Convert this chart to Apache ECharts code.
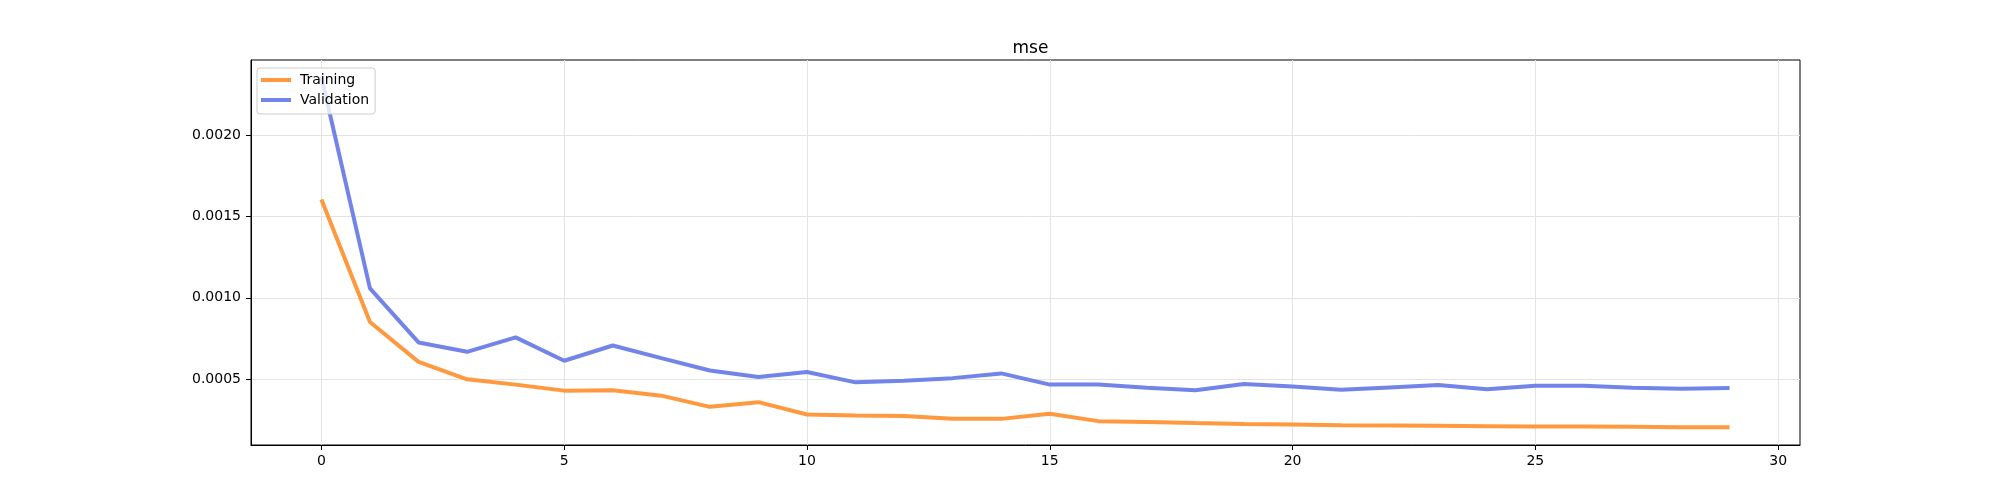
<!DOCTYPE html>
<html>
<head>
<meta charset="utf-8">
<title>mse</title>
<script src="https://cdn.jsdelivr.net/npm/echarts@6/dist/echarts.min.js"></script>
<style>
  html, body { margin: 0; padding: 0; background: #fff; }
  #chart { width: 2000px; height: 500px; }
</style>
</head>
<body>
<div id="chart"></div>
<script>
// 数据
var epochs = [0, 1, 2, 3, 4, 5, 6, 7, 8, 9, 10, 11, 12, 13, 14, 15, 16, 17, 18, 19, 20, 21, 22, 23, 24, 25, 26, 27, 28, 29];
var training = [0.001605, 0.000851, 0.000605, 0.000498, 0.000465, 0.000428, 0.000430, 0.000397, 0.000328, 0.000357,
  0.000281, 0.000274, 0.000272, 0.000254, 0.000254, 0.000285, 0.000240, 0.000235, 0.000228, 0.000223,
  0.000219, 0.000215, 0.000213, 0.000211, 0.000209, 0.000207, 0.000207, 0.000205, 0.000203, 0.000203];
var validation = [0.002360, 0.001058, 0.000725, 0.000667, 0.000756, 0.000612, 0.000706, 0.000628, 0.000552, 0.000512,
  0.000543, 0.000479, 0.000489, 0.000505, 0.000534, 0.000465, 0.000465, 0.000446, 0.000430, 0.000469,
  0.000454, 0.000434, 0.000448, 0.000462, 0.000436, 0.000458, 0.000458, 0.000446, 0.000440, 0.000444];
var xTicks = [0, 5, 10, 15, 20, 25, 30];
var yTicks = [0.0005, 0.0010, 0.0015, 0.0020];

function pairs(xs, ys) {
  return xs.map(function (x, i) { return [x, ys[i]]; });
}

var font = 'DejaVu Sans';
var myChart = echarts.init(document.getElementById('chart'));

var option = {
  backgroundColor: '#fff',
  animation: false,
  title: {
    text: 'mse',
    left: 1025.5,
    top: 35,
    textAlign: 'center',
    textStyle: { fontFamily: font, fontSize: 17, fontWeight: 'normal', color: '#000' }
  },
  legend: {
    orient: 'vertical',
    left: 257,
    top: 68,
    padding: [4, 6, 6, 4],
    backgroundColor: 'rgba(255,255,255,0.8)',
    borderColor: '#cccccc',
    borderWidth: 1,
    borderRadius: 3,
    itemWidth: 30,
    itemHeight: 4,
    itemGap: 4,
    icon: 'rect',
    textStyle: { fontFamily: font, fontSize: 14, lineHeight: 16, color: '#000', padding: [0, 0, 0, 4] },
    data: ['Training', 'Validation']
  },
  grid: {
    left: 251,
    right: 200,
    top: 60,
    bottom: 55,
    show: true,
    borderColor: '#000',
    borderWidth: 1,
    containLabel: false
  },
  xAxis: {
    type: 'value',
    min: -1.45,
    max: 30.45,
    splitNumber: 6,
    axisLine: { show: true, onZero: false, lineStyle: { color: '#000', width: 1 } },
    axisTick: { show: true, inside: false, length: 5, customValues: xTicks, lineStyle: { color: '#000' } },
    axisLabel: {
      customValues: xTicks,
      margin: 9,
      fontFamily: font, fontSize: 14, color: '#000',
      formatter: function (v) { return String(v); }
    },
    splitLine: { show: true, lineStyle: { color: '#e3e3e3', width: 1 } }
  },
  yAxis: {
    type: 'value',
    min: 0.000093,
    max: 0.002465,
    splitNumber: 5,
    axisLine: { show: true, onZero: false, lineStyle: { color: '#000', width: 1 } },
    axisTick: { show: true, inside: false, length: 5, customValues: yTicks, lineStyle: { color: '#000' } },
    axisLabel: {
      customValues: yTicks,
      margin: 10,
      fontFamily: font, fontSize: 14, color: '#000',
      formatter: function (v) { return v.toFixed(4); }
    },
    splitLine: { show: true, lineStyle: { color: '#e3e3e3', width: 1 } }
  },
  series: [
    {
      name: 'Training',
      type: 'line',
      data: pairs(epochs, training),
      showSymbol: false,
      color: '#ff993f',
      lineStyle: { width: 4, color: '#ff993f' }
    },
    {
      name: 'Validation',
      type: 'line',
      data: pairs(epochs, validation),
      showSymbol: false,
      color: '#7384e8',
      lineStyle: { width: 4, color: '#7384e8' }
    }
  ]
};

myChart.setOption(option);
</script>
</body>
</html>
